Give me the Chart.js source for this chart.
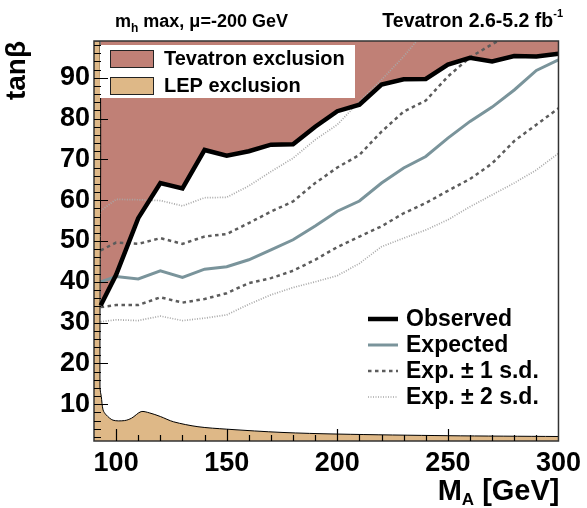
<!DOCTYPE html>
<html>
<head>
<meta charset="utf-8">
<script src="https://cdn.jsdelivr.net/npm/chart.js@4.4.1/dist/chart.umd.min.js"></script>
<style>
  html, body { margin: 0; padding: 0; background: #fff; }
  #wrap { width: 587px; height: 508px; }
</style>
</head>
<body>
<div id="wrap"><canvas id="c" width="587" height="508"></canvas></div>
<script>
// M_A points (GeV) shared by the limit curves
const massA = [93, 100, 110, 120, 130, 140, 150, 160, 170, 180, 190, 200, 210, 220, 230, 240, 250, 260, 270, 280, 290, 300];
const observed  = [34.2, 41.7, 55.6, 64.2, 62.9, 72.3, 70.9, 72.0, 73.6, 73.7, 78.0, 81.8, 83.4, 88.3, 89.6, 89.7, 93.2, 94.9, 94.0, 95.3, 95.2, 95.9];
const expected  = [40.0, 41.3, 40.7, 42.7, 41.1, 43.1, 43.7, 45.4, 47.8, 50.3, 53.7, 57.3, 59.8, 64.2, 67.9, 70.7, 75.2, 79.3, 82.8, 87.0, 91.8, 94.4];
const expPlus1  = [47.7, 49.6, 49.3, 50.7, 49.3, 51.1, 51.7, 54.4, 57.2, 59.7, 64.2, 68.0, 71.1, 76.8, 81.7, 84.4, 90.3, 95.0, 98.2, 101.3, null, null];
const expMinus1 = [33.8, 34.3, 34.3, 36.2, 34.9, 35.8, 37.2, 39.7, 40.9, 42.7, 45.4, 48.5, 51.1, 53.6, 56.8, 59.3, 62.3, 65.2, 69.0, 74.5, 78.5, 82.5];
const expPlus2  = [57.4, 60.2, 60.1, 59.9, 58.6, 60.6, 60.7, 63.5, 67.0, 70.3, 74.8, 78.5, 84.2, 89.5, 95.2, 101.7, null, null, null, null, null, null];
const expMinus2 = [30.2, 30.7, 30.5, 31.6, 30.5, 31.1, 31.9, 34.5, 36.8, 38.6, 40.0, 41.5, 44.5, 48.6, 50.7, 52.7, 55.2, 58.4, 61.3, 64.2, 67.4, 71.5];

// LEP excluded region outline
const lepMass = [90, 92.7, 92.7, 93.3, 94.1, 95.5, 98.6, 103.8, 107, 111.3, 115, 120, 126, 137, 150, 175, 200, 250, 300];
const lepTanb = [99, 99, 14, 11.9, 8.6, 7.4, 6.1, 6.0, 6.6, 8.2, 7.9, 7.0, 5.7, 4.5, 3.9, 3.1, 2.7, 2.3, 2.1];

const xTicks = [100, 150, 200, 250, 300];
const yTicks = [10, 20, 30, 40, 50, 60, 70, 80, 90];

const FONT = '"Liberation Sans", Arial, Helvetica, sans-serif';
const TEV_COLOR = "#c08076";
const LEP_COLOR = "#deb887";

function pts(xs, ys) {
  const out = [];
  xs.forEach((x, i) => { if (ys[i] != null) out.push({ x, y: ys[i] }); });
  return out;
}

function lineDs(label, ys, color, width, dash) {
  return {
    label,
    data: pts(massA, ys),
    borderColor: color,
    borderWidth: width,
    borderDash: dash || [],
    pointRadius: 0,
    tension: 0,
    fill: false,
  };
}

// text with an optional sub/superscript piece, drawn left to right
function drawPieces(ctx, x, y, pieces) {
  let cx = x;
  for (const p of pieces) {
    ctx.font = `bold ${p.size}px ${FONT}`;
    ctx.fillText(p.t, cx, y + (p.dy || 0));
    cx += ctx.measureText(p.t).width;
  }
  return cx;
}
function piecesWidth(ctx, pieces) {
  let w = 0;
  for (const p of pieces) {
    ctx.font = `bold ${p.size}px ${FONT}`;
    w += ctx.measureText(p.t).width;
  }
  return w;
}

const decor = {
  id: "decor",
  afterDatasetsDraw(chart) {
    const { ctx, chartArea: a, scales } = chart;
    const xs = scales.x, ys = scales.y;
    const ds = chart.data.datasets;
    ctx.save();

    // upper-left legend (fills)
    ctx.fillStyle = "#fff";
    ctx.fillRect(a.left + 6, a.top + 4, 255, 53);
    const boxes = [
      { c: ds[1].backgroundColor, t: "Tevatron exclusion", top: a.top + 9 },
      { c: ds[0].backgroundColor, t: "LEP exclusion", top: a.top + 36 },
    ];
    ctx.textBaseline = "middle";
    ctx.textAlign = "left";
    for (const b of boxes) {
      ctx.fillStyle = b.c;
      ctx.fillRect(a.left + 16, b.top, 44, 18);
      ctx.strokeStyle = "#222";
      ctx.lineWidth = 1;
      ctx.strokeRect(a.left + 16.5, b.top + 0.5, 43, 17);
      ctx.fillStyle = "#000";
      ctx.font = `bold 20px ${FONT}`;
      ctx.fillText(b.t, a.left + 70, b.top + 9.5);
    }

    // frame
    ctx.strokeStyle = "#333";
    ctx.lineWidth = 1.5;
    ctx.strokeRect(a.left, a.top, a.right - a.left, a.bottom - a.top);

    // inner ticks, left and bottom only
    ctx.strokeStyle = "#000";
    ctx.lineWidth = 1.2;
    ctx.beginPath();
    for (let v = 2; v < ys.max; v += 2) {
      const py = Math.round(ys.getPixelForValue(v)) + 0.5;
      const len = v % 10 === 0 ? 14 : 7;
      ctx.moveTo(a.left, py);
      ctx.lineTo(a.left + len, py);
    }
    for (let v = 100; v < xs.max; v += 10) {
      const px = Math.round(xs.getPixelForValue(v)) + 0.5;
      const len = v % 50 === 0 ? 12 : 6;
      ctx.moveTo(px, a.bottom);
      ctx.lineTo(px, a.bottom - len);
    }
    ctx.stroke();

    // lower-right legend (lines)
    const rows = [
      { d: ds[1], t: "Observed" },
      { d: ds[2], t: "Expected" },
      { d: ds[3], t: "Exp. \u00b1 1 s.d." },
      { d: ds[5], t: "Exp. \u00b1 2 s.d." },
    ];
    rows.forEach((r, i) => {
      const yy = 319 + i * 26;
      ctx.beginPath();
      ctx.strokeStyle = r.d.borderColor;
      ctx.lineWidth = r.d.borderWidth;
      ctx.setLineDash(r.d.borderDash);
      ctx.moveTo(368, yy);
      ctx.lineTo(398, yy);
      ctx.stroke();
      ctx.setLineDash([]);
      ctx.fillStyle = "#000";
      ctx.font = `bold 23px ${FONT}`;
      ctx.textBaseline = "middle";
      ctx.fillText(r.t, 406, yy + 1);
    });

    // titles above the frame
    ctx.fillStyle = "#000";
    ctx.textBaseline = "alphabetic";
    drawPieces(ctx, 115, 27, [
      { t: "m", size: 18 },
      { t: "h", size: 12, dy: 5 },
      { t: " max, \u03bc=-200 GeV", size: 18 },
    ]);
    const right = [
      { t: "Tevatron 2.6-5.2 fb", size: 19.5 },
      { t: "-1", size: 11, dy: -10 },
    ];
    drawPieces(ctx, 563 - piecesWidth(ctx, right), 27, right);

    // x axis title with subscript
    const xt = [
      { t: "M", size: 29 },
      { t: "A", size: 17, dy: 5 },
      { t: " [GeV]", size: 29 },
    ];
    drawPieces(ctx, a.right + 1 - piecesWidth(ctx, xt), 500, xt);

    ctx.restore();
  },
};

const chart = new Chart(document.getElementById("c"), {
  type: "line",
  data: {
    datasets: [
      {
        label: "LEP exclusion",
        data: pts(lepMass, lepTanb),
        borderColor: "#000",
        borderWidth: 1,
        backgroundColor: LEP_COLOR,
        pointRadius: 0,
        tension: 0.3,
        fill: "start",
      },
      Object.assign(lineDs("Observed", observed, "#000", 4.5), {
        backgroundColor: TEV_COLOR,
        fill: "end",
      }),
      lineDs("Expected", expected, "#7a949b", 3),
      lineDs("Exp. +1 s.d.", expPlus1, "#5c5c5c", 2.5, [3.5, 3.5]),
      lineDs("Exp. -1 s.d.", expMinus1, "#5c5c5c", 2.5, [3.5, 3.5]),
      lineDs("Exp. +2 s.d.", expPlus2, "#a8a8a8", 1.7, [1, 1.5]),
      lineDs("Exp. -2 s.d.", expMinus2, "#a8a8a8", 1.7, [1, 1.5]),
    ],
  },
  options: {
    responsive: false,
    devicePixelRatio: 1,
    animation: false,
    layout: { padding: { top: 41, right: 27, left: 0, bottom: 0 } },
    plugins: {
      legend: { display: false },
      tooltip: { enabled: false },
      filler: { drawTime: "beforeDatasetsDraw" },
    },
    scales: {
      x: {
        type: "linear",
        min: 90,
        max: 300,
        grid: { display: false, drawTicks: false },
        border: { display: false },
        afterBuildTicks: (s) => { s.ticks = xTicks.map((v) => ({ value: v })); },
        afterFit: (s) => { s.height = 67; },
        ticks: {
          padding: 6,
          color: "#000",
          font: { family: FONT, size: 27, weight: "bold" },
          maxRotation: 0,
        },
      },
      y: {
        type: "linear",
        min: 1,
        max: 99,
        grid: { display: false, drawTicks: false },
        border: { display: false },
        afterBuildTicks: (s) => { s.ticks = yTicks.map((v) => ({ value: v })); },
        afterFit: (s) => { s.width = 94; },
        ticks: {
          padding: 4,
          color: "#000",
          font: { family: FONT, size: 27, weight: "bold" },
        },
        title: {
          display: true,
          text: "tan\u03b2",
          align: "end",
          color: "#000",
          padding: { top: 0, bottom: 0 },
          font: { family: FONT, size: 28, weight: "bold" },
        },
      },
    },
  },
  plugins: [decor],
});
</script>
</body>
</html>
